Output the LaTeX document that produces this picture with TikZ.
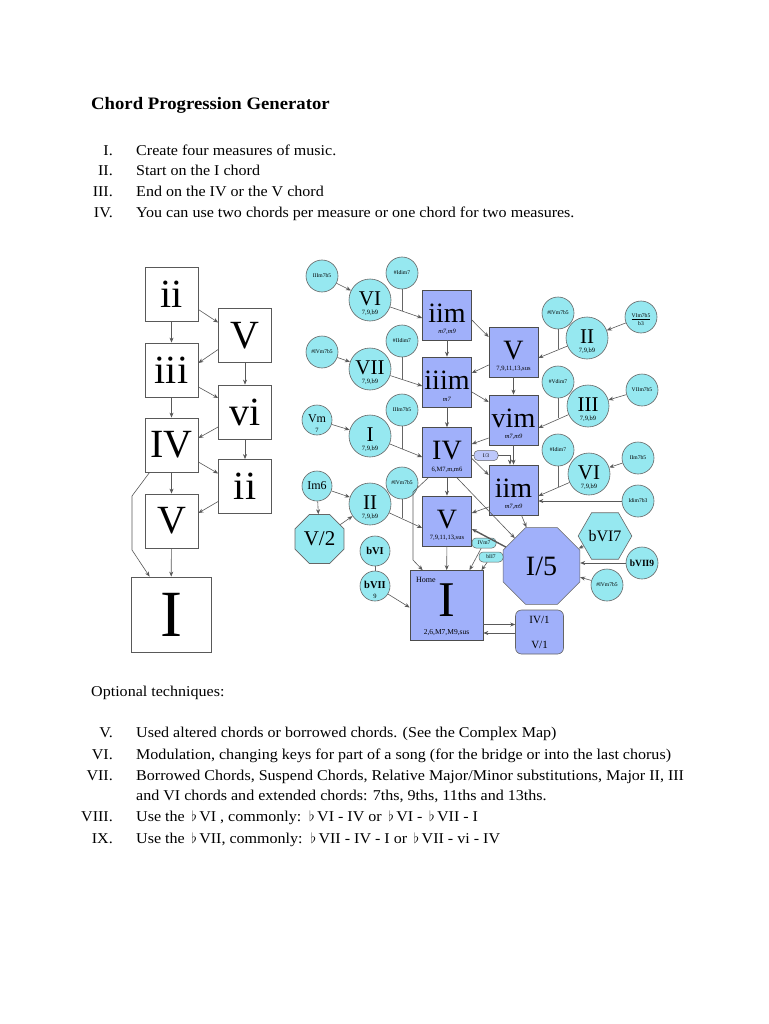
\documentclass[tikz,border=0pt]{standalone}
\usepackage{fontspec}
\setmainfont{Liberation Serif}
\newfontfamily\bodyfont[FakeStretch=1.07]{Liberation Serif}
\usetikzlibrary{arrows.meta,shapes.geometric,calc}
\definecolor{cyanfill}{RGB}{150,232,240}
\definecolor{sqblue}{RGB}{160,176,250}
\tikzset{
  every node/.style={inner sep=0pt},
  box/.style={draw=black!65, line width=0.8pt, fill=white, minimum width=53pt, minimum height=54pt, font=\fontsize{40}{40}\selectfont},
  sq/.style={draw=black!70, line width=0.7pt, fill=sqblue, minimum width=49pt, minimum height=50pt, font=\fontsize{28}{28}\selectfont},
  crc/.style={circle, draw=black!60, line width=0.6pt, fill=cyanfill, minimum size=42pt, font=\fontsize{21}{21}\selectfont},
  sml/.style={circle, draw=black!60, line width=0.6pt, fill=cyanfill, minimum size=32pt, font=\fontsize{5.6}{6}\selectfont},
  pill/.style={rectangle, rounded corners=4pt, draw=black!60, line width=0.5pt, fill=cyanfill, minimum width=24pt, minimum height=10pt, font=\fontsize{5.5}{6}\selectfont},
  sub/.style={font=\fontsize{6.5}{6.5}\selectfont},
  arr/.style={draw=black!65, line width=0.6pt, -{Stealth[length=5pt,width=4pt]}},
  lin/.style={draw=black!60, line width=0.6pt},
  txt/.style={anchor=base west, font=\bodyfont\fontsize{15}{18}\selectfont},
  num/.style={anchor=base east, font=\bodyfont\fontsize{15}{18}\selectfont},
}
% chord circle with a small line under the name
\newcommand\bigcrc[4]{\node[crc] (#1) at (#2) {\raisebox{3pt}{#3}};
  \node[sub] (#1-s) at ([yshift=-13pt]#1.center) {#4};}
% chord square with its extensions
\newcommand\chordsq[4]{\node[sq] (#1) at (#2) {\raisebox{4pt}{#3}};
  \node[sub] (#1-s) at ([yshift=-17pt]#1.center) {#4};}

\begin{document}
\begin{tikzpicture}[x=1pt,y=-1pt]
%%%%% PAGE %%%%%
\useasboundingbox (0,0) rectangle (768,1024);
\fill[white] (0,0) rectangle (768,1024);

%%%%% TOP TEXT %%%%%
\node[anchor=base west, font=\bodyfont\fontsize{17.5}{20}\selectfont\bfseries] (title) at (91,110) {Chord Progression Generator};
\node[num] (n1) at (113,156) {I.};
\node[txt] (t1) at (136,156) {Create four measures of music.};
\node[num] (n2) at (113,176) {II.};
\node[txt] (t2) at (136,176) {Start on the I chord};
\node[num] (n3) at (113,197) {III.};
\node[txt] (t3) at (136,197) {End on the IV or the V chord};
\node[num] (n4) at (113,218) {IV.};
\node[txt] (t4) at (136,218) {You can use two chords per measure or one chord for two measures.};

%%%%% SIMPLE MAP %%%%%
\node[box] (a-ii) at (171.5,294.5) {ii};
\node[box] (a-V) at (245,335.5) {V};
\node[box] (a-iii) at (171.5,370) {iii};
\node[box] (a-vi) at (245,412) {vi};
\node[box] (a-IV) at (171.5,445) {IV};
\node[box] (a-ii2) at (245,486.5) {ii};
\node[box] (a-V2) at (171.5,521) {V};
\node[box, minimum width=80pt, minimum height=75pt, font=\fontsize{66}{66}\selectfont] (a-I) at (171,614.5) {I};

\draw[arr] (a-ii) -- (a-iii);
\draw[arr] (a-iii) -- (a-IV);
\draw[arr] (a-IV) -- (a-V2);
\draw[arr] (a-V2) -- (a-I);
\draw[arr] (a-V) -- (a-vi);
\draw[arr] (a-vi) -- (a-ii2);
\draw[arr] ([yshift=-15pt]a-ii.east) -- ([yshift=13pt]a-V.west);
\draw[arr] ([yshift=-14pt]a-V.west) -- ([yshift=7pt]a-iii.east);
\draw[arr] ([yshift=-17pt]a-iii.east) -- ([yshift=14pt]a-vi.west);
\draw[arr] ([yshift=-15pt]a-vi.west) -- ([yshift=7pt]a-IV.east);
\draw[arr] ([yshift=-17pt]a-IV.east) -- ([yshift=13pt]a-ii2.west);
\draw[arr] ([yshift=-15pt]a-ii2.west) -- ([yshift=8pt]a-V2.east);
\draw[arr] ([xshift=5pt]a-IV.south west) -- (132,496) -- (132,550) -- ([xshift=19pt]a-I.north west);

%%%%% CHORD MAP : SQUARES %%%%%
\chordsq{iim}{447,315}{iim}{\textit{m7,m9}}
\chordsq{iiim}{447,382}{iiim}{\textit{m7}}
\chordsq{iv}{447,452.5}{IV}{6,M7,m,m6}
\chordsq{v}{447,521}{V}{7,9,11,13,sus}
\chordsq{vr}{513.5,352}{V}{7,9,11,13,sus}
\chordsq{vim}{513.5,420}{vim}{\textit{m7,m9}}
\chordsq{iim2}{513.5,490}{iim}{\textit{m7,m9}}
\node[sq, minimum width=73pt, minimum height=70pt] (ib) at (446.5,605.5) {};
\node[font=\fontsize{50}{50}\selectfont] (ib-t) at (446.5,600) {I};
\node[font=\fontsize{8}{8}\selectfont, anchor=west] (home) at (416,580) {Home};
\node[font=\fontsize{7.5}{7.5}\selectfont] (ib-s) at (446.5,633) {2,6,M7,M9,sus};

%%%%% CHORD MAP : CIRCLES %%%%%
\bigcrc{vi}{370,300}{VI}{7,9,b9}
\bigcrc{vii}{370,369}{VII}{7,9,b9}
\bigcrc{ic}{370,436}{I}{7,9,b9}
\bigcrc{iic}{370,504}{II}{7,9,b9}
\bigcrc{iir}{587,338}{II}{7,9,b9}
\bigcrc{iiir}{588,406}{III}{7,9,b9}
\bigcrc{vir}{589,474}{VI}{7,9,b9}

\node[sml] (s1) at (322,276) {IIIm7b5};
\node[sml] (s2) at (402,273) {\#Idim7};
\node[sml] (s3) at (402,341) {\#IIdim7};
\node[sml] (s4) at (322,352) {\#IVm7b5};
\node[sml] (s5) at (402,410) {IIIm7b5};
\node[sml] (s6) at (402,483) {\#IVm7b5};
\node[sml] (s7) at (558,313) {\#IVm7b5};
\node[sml] (s8) at (641,317) {\underline{VIm7b5}};
\node[sub, font=\fontsize{5.6}{6}\selectfont] (s8-s) at (641,324) {b3};
\node[sml] (s9) at (558,382) {\#Vdim7};
\node[sml] (s10) at (642,390) {VIIm7b5};
\node[sml] (s11) at (558,450) {\#Idim7};
\node[sml] (s12) at (638,458) {IIm7b5};
\node[sml] (s13) at (638,501) {Idim7b3};
\node[sml] (s14) at (607,585) {\#IVm7b5};
\node[sml, minimum size=30pt, font=\fontsize{12}{12}\selectfont] (vm) at (317,420) {\raisebox{2pt}{Vm}};
\node[sub] (vm-s) at (317,430) {7};
\node[sml, minimum size=30pt, font=\fontsize{12}{12}\selectfont] (im6) at (317,486) {Im6};
\node[sml, minimum size=30pt, font=\fontsize{10.5}{11}\selectfont\bfseries] (bvi) at (375,551) {bVI};
\node[sml, minimum size=30pt, font=\fontsize{10.5}{11}\selectfont\bfseries] (bvii) at (375,586) {\raisebox{2pt}{bVII}};
\node[sub] (bvii-s) at (375,596) {9};
\node[sml, font=\fontsize{9.5}{10}\selectfont\bfseries] (bvii9) at (642,563) {bVII9};

%%%%% CHORD MAP : POLYGONS %%%%%
\node[regular polygon, regular polygon sides=8, minimum size=53pt, draw=black!60, line width=0.6pt, fill=cyanfill, font=\fontsize{21}{21}\selectfont] (v2) at (319.5,539) {V/2};
\node[regular polygon, regular polygon sides=8, minimum size=83pt, draw=black!60, line width=0.6pt, fill=sqblue, font=\fontsize{28}{28}\selectfont] (i5) at (541.5,566) {I/5};
\node[regular polygon, regular polygon sides=6, minimum size=50pt, draw=black!60, line width=0.6pt, fill=cyanfill, font=\fontsize{16}{16}\selectfont] (bvi7) at (605,536) {bVI7};
\node[pill, fill=sqblue!70] (i3) at (486,455.5) {I/3};
\node[pill] (ivm7) at (484,543) {IVm7};
\node[pill] (bii7) at (491,557) {bII7};
\node[rectangle, rounded corners=6pt, draw=black!60, line width=0.6pt, fill=sqblue, minimum width=48pt, minimum height=44pt] (iv1) at (539.5,632) {};
\node[font=\fontsize{11}{11}\selectfont] (iv1-a) at (539.5,620) {IV/1};
\node[font=\fontsize{11}{11}\selectfont] (iv1-b) at (539.5,645) {V/1};

%%%%% CHORD MAP : JOINS %%%%%
\coordinate (j1) at (402,311);
\coordinate (j2) at (402,380);
\coordinate (j3) at (402,448.5);
\coordinate (j4) at (402,517.6);
\coordinate (j5) at (558,349.3);
\coordinate (j6) at (558,418.2);
\coordinate (j7) at (558,486.5);

%%%%% CHORD MAP : ARROWS %%%%%
\draw[arr] (s1) -- (vi);
\draw[arr] (vi) -- ([yshift=-3pt]iim.west);
\draw[lin] (s2) -- (j1);
\draw[arr] (s4) -- (vii);
\draw[arr] (vii) -- ([yshift=-4pt]iiim.west);
\draw[lin] (s3) -- (j2);
\draw[arr] (vm) -- (ic);
\draw[arr] (ic) -- ([yshift=-4.5pt]iv.west);
\draw[lin] (s5) -- (j3);
\draw[arr] (im6) -- (iic);
\draw[arr] (im6) -- (v2);
\draw[arr] (v2) -- (iic);
\draw[arr] (iic) -- ([yshift=-7pt]v.west);
\draw[lin] (s6) -- (j4);
\draw[lin] (bvi) -- (bvii);
\draw[arr] (bvii) -- ([yshift=-2pt]ib.west);

\draw[arr] (iim) -- (iiim);
\draw[arr] (iiim) -- (iv);
\draw[arr] (iv) -- (v);
\draw[arr] (v) -- (ib);
\draw[arr] ([xshift=6pt]iv.south west) -- (413,492) -- (413,560) -- ([xshift=13pt]ib.north west);
\draw[arr] (vr) -- (vim);
\draw[arr] (vim) -- (iim2);
\draw[arr] ([yshift=-5pt]iim.east) -- ([yshift=15pt]vr.west);
\draw[arr] ([yshift=-13pt]vr.west) -- ([yshift=9pt]iiim.east);
\draw[arr] ([yshift=-10pt]iiim.east) -- ([yshift=18pt]vim.west);
\draw[arr] ([yshift=-18pt]vim.west) -- ([yshift=8.5pt]iv.east);
\draw[arr] ([yshift=-6pt]iv.east) -- ([yshift=15pt]iim2.west);
\draw[lin] ([yshift=-3pt]iv.east) -- (i3);
\draw[arr] (i3.east) -- (510,455.5) -- (iim2.north -| 510,0);
\draw[arr] ([yshift=-17pt]iim2.west) -- ([yshift=8pt]v.east);
\draw[arr] ([xshift=10pt]iv.south) -- (i5);
\draw[arr] ([xshift=8pt]iim2.south) -- ([xshift=-15pt]i5.north);
\draw[arr, line width=1.4pt] (i5) -- ([yshift=-8pt]v.east);
\draw[arr] (ivm7) -- ([xshift=23pt]ib.north);
\draw[arr] (bii7) -- ([xshift=35pt]ib.north);
\draw[arr] ([yshift=-19pt]ib.east) -- ([yshift=7.5pt]iv1.west);
\draw[arr] ([yshift=-1pt]iv1.west) -- ([yshift=-27.5pt]ib.east);

\draw[arr] (s8) -- (iir);
\draw[arr] (iir) -- ([yshift=-6pt]vr.east);
\draw[lin] (s7) -- (j5);
\draw[arr] (s10) -- (iiir);
\draw[arr] (iiir) -- ([yshift=-8pt]vim.east);
\draw[lin] (s9) -- (j6);
\draw[arr] (s12) -- (vir);
\draw[arr] (vir) -- ([yshift=-6pt]iim2.east);
\draw[lin] (s11) -- (j7);
\draw[arr] (s13) -- (iim2.east |- s13);
\draw[arr] (bvi7) -- (i5);
\draw[arr] (bvii9) -- (i5.east |- bvii9);
\draw[arr] (s14) -- (i5);

%%%%% BOTTOM TEXT %%%%%
\node[txt] (opt) at (91,696) {Optional techniques:};
\node[num] (n5) at (113,737) {V.};
\node[txt] (t5) at (136,737) {Used altered chords or borrowed chords. (See the Complex Map)};
\node[num] (n6) at (113,759) {VI.};
\node[txt] (t6) at (136,759) {Modulation, changing keys for part of a song (for the bridge or into the last chorus)};
\node[num] (n7) at (113,780) {VII.};
\node[txt] (t7) at (136,780) {Borrowed Chords, Suspend Chords, Relative Major/Minor substitutions, Major II, III};
\node[txt] (t7b) at (136,800) {and VI chords and extended chords: 7ths, 9ths, 11ths and 13ths.};
\node[num] (n8) at (113,821) {VIII.};
\node[txt] (t8) at (136,821) {Use the \,$\flat$\,VI , commonly: \,$\flat$\,VI - IV or \,$\flat$\,VI - \,$\flat$\,VII - I};
\node[num] (n9) at (113,843) {IX.};
\node[txt] (t9) at (136,843) {Use the \,$\flat$\,VII, commonly: \,$\flat$\,VII - IV - I or \,$\flat$\,VII - vi - IV};
\end{tikzpicture}
\end{document}
